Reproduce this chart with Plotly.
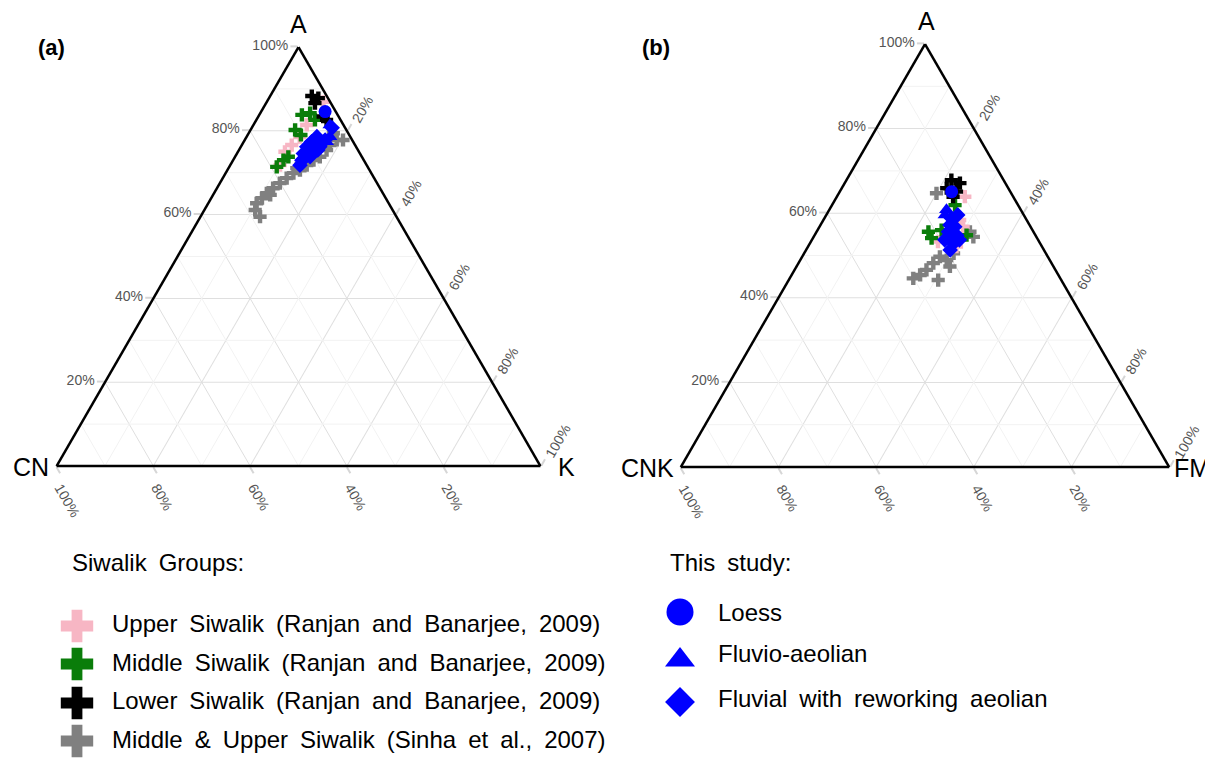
import plotly.graph_objects as go

W, H = 1213, 761
OFF = 8  # page offset of the figure div (body margin); positions below are page pixels
FONT = "Liberation Sans"

# ---------------- Panel (a): A - CN - K (%) ----------------
a_upper_A = [86.9, 81.4, 76.6, 75.0, 71.8, 78.5]
a_upper_CN = [1.4, 7.6, 13.1, 15.3, 17.9, 10.5]
a_upper_K = [11.7, 11.0, 10.3, 9.7, 10.3, 11.0]

a_middle_A = [83.8, 82.6, 84.2, 80.2, 73.8, 71.4, 73.0, 79.0]
a_middle_CN = [7.4, 5.3, 5.5, 10.6, 15.2, 18.8, 16.6, 10.0]
a_middle_K = [8.8, 12.1, 10.3, 9.2, 11.0, 9.8, 10.4, 11.0]

a_lower_A = [88.3, 87.8, 86.6, 82.6, 83.4]
a_lower_CN = [3.1, 2.0, 3.3, 2.9, 3.2]
a_lower_K = [8.6, 10.2, 10.1, 14.5, 13.4]

a_sinha_A = [77.8, 79.4, 75.4, 73.8, 73.0, 71.8, 70.6, 69.9, 68.7, 67.5, 66.3, 65.1, 63.9, 62.7, 61.1, 59.5, 64.7, 76.6, 71.1, 77.8]
a_sinha_CN = [3.2, 3.1, 6.5, 8.7, 10.4, 12.4, 14.4, 16.1, 18.1, 20.1, 22.1, 24.0, 25.6, 27.3, 28.4, 28.2, 23.5, 5.2, 14.8, 1.9]
a_sinha_K = [19.0, 17.5, 18.1, 17.5, 16.6, 15.8, 15.0, 14.0, 13.2, 12.4, 11.6, 10.9, 10.5, 10.0, 10.5, 12.3, 11.8, 18.2, 14.1, 20.3]

a_loess_A = [84.6]
a_loess_CN = [2.2]
a_loess_K = [13.2]

a_fluvioaeolian_A = [81.4, 78.6, 77.4]
a_fluvioaeolian_CN = [2.8, 4.2, 5.5]
a_fluvioaeolian_K = [15.8, 17.2, 17.1]

a_fluvial_A = [78.6, 77.4, 76.2, 74.6, 73.0, 75.4, 76.2, 73.8, 73.5, 75.4, 77.8, 80.7, 75.4, 71.8]
a_fluvial_CN = [6.9, 8.6, 10.2, 11.7, 12.8, 9.2, 7.5, 10.7, 12.0, 8.3, 5.6, 2.7, 9.9, 13.8]
a_fluvial_K = [14.5, 14.0, 13.6, 13.7, 14.2, 15.4, 16.3, 15.5, 14.5, 16.3, 16.6, 16.6, 14.7, 14.4]

# ---------------- Panel (b): A - CNK - FM (%) ----------------
b_upper_A = [63.9, 58.4, 52.1, 53.3, 56.8]
b_upper_CNK = [9.9, 13.7, 17.5, 20.7, 13.8]
b_upper_FM = [26.2, 27.9, 30.4, 26.0, 29.4]

b_middle_A = [61.9, 55.6, 56.0, 54.8, 54.1]
b_middle_CNK = [12.9, 21.5, 18.6, 14.1, 21.6]
b_middle_FM = [25.2, 22.9, 25.4, 31.1, 24.3]

b_lower_A = [67.8, 67.1, 65.9, 65.1, 63.9]
b_lower_CNK = [10.7, 9.3, 12.6, 11.0, 12.3]
b_lower_FM = [21.5, 23.6, 21.5, 23.9, 23.8]

b_sinha_A = [64.7, 54.4, 55.6, 50.5, 48.9, 49.7, 48.2, 46.6, 45.4, 44.6, 44.2, 47.4]
b_sinha_CNK = [15.3, 12.9, 13.0, 18.9, 21.1, 22.1, 24.2, 26.4, 28.3, 30.1, 25.2, 21.2]
b_sinha_FM = [20.0, 32.7, 31.4, 30.6, 30.0, 28.2, 27.6, 27.0, 26.3, 25.3, 30.6, 31.4]

b_loess_A = [65.1]
b_loess_CNK = [12.0]
b_loess_FM = [22.9]

b_fluvioaeolian_A = [60.8, 59.6]
b_fluvioaeolian_CNK = [15.2, 16.1]
b_fluvioaeolian_FM = [24.0, 24.3]

b_fluvial_A = [58.8, 56.8, 54.8, 52.9, 51.3, 55.6, 53.7, 59.6, 53.7, 53.7, 57.2]
b_fluvial_CNK = [15.2, 15.5, 16.1, 17.7, 19.2, 17.4, 17.7, 13.5, 19.1, 16.1, 16.3]
b_fluvial_FM = [26.0, 27.7, 29.1, 29.4, 29.5, 27.0, 28.6, 26.9, 27.2, 30.2, 26.5]

# ---------------- Legend content / tick labels ----------------
siwalik_labels = [
    "Upper Siwalik (Ranjan and Banarjee, 2009)",
    "Middle Siwalik (Ranjan and Banarjee, 2009)",
    "Lower Siwalik (Ranjan and Banarjee, 2009)",
    "Middle & Upper Siwalik (Sinha et al., 2007)",
]
siwalik_colors = ["#f7b6c4", "#0a7d0a", "#000000", "#808080"]
study_labels = ["Loess", "Fluvio-aeolian", "Fluvial with reworking aeolian"]
study_symbols = ["circle", "triangle-up", "diamond"]
BLUE = "#0000ff"

tick_vals = [20, 40, 60, 80, 100]
tick_text = ["20%", "40%", "60%", "80%", "100%"]

fig = go.Figure()


def minor_grid(sub):
    a, b, c = [], [], []
    for v in (10, 30, 50, 70, 90):
        a += [v, v, None]; b += [100 - v, 0, None]; c += [0, 100 - v, None]
        a += [100 - v, 0, None]; b += [v, v, None]; c += [0, 100 - v, None]
        a += [100 - v, 0, None]; b += [0, 100 - v, None]; c += [v, v, None]
    fig.add_trace(go.Scatterternary(a=a, b=b, c=c, mode="lines",
                                    line=dict(color="#f2f2f2", width=1),
                                    subplot=sub, hoverinfo="skip", showlegend=False))


def add_pts(sub, A, B, C, color, symbol, size):
    fig.add_trace(go.Scatterternary(a=A, b=B, c=C, mode="markers",
                                    marker=dict(color=color, symbol=symbol, size=size,
                                                line=dict(width=0)),
                                    subplot=sub, showlegend=False))


CROSS = 11
for sub, groups, blues in [
    ("ternary", [(a_sinha_A, a_sinha_CN, a_sinha_K, siwalik_colors[3]),
                 (a_upper_A, a_upper_CN, a_upper_K, siwalik_colors[0]),
                 (a_middle_A, a_middle_CN, a_middle_K, siwalik_colors[1]),
                 (a_lower_A, a_lower_CN, a_lower_K, siwalik_colors[2])],
     [(a_fluvial_A, a_fluvial_CN, a_fluvial_K, "diamond", 12),
      (a_fluvioaeolian_A, a_fluvioaeolian_CN, a_fluvioaeolian_K, "triangle-up", 13),
      (a_loess_A, a_loess_CN, a_loess_K, "circle", 13)]),
    ("ternary2", [(b_sinha_A, b_sinha_CNK, b_sinha_FM, siwalik_colors[3]),
                  (b_upper_A, b_upper_CNK, b_upper_FM, siwalik_colors[0]),
                  (b_middle_A, b_middle_CNK, b_middle_FM, siwalik_colors[1]),
                  (b_lower_A, b_lower_CNK, b_lower_FM, siwalik_colors[2])],
     [(b_fluvial_A, b_fluvial_CNK, b_fluvial_FM, "diamond", 12),
      (b_fluvioaeolian_A, b_fluvioaeolian_CNK, b_fluvioaeolian_FM, "triangle-up", 13),
      (b_loess_A, b_loess_CNK, b_loess_FM, "circle", 13)]),
]:
    minor_grid(sub)
    for A, B, C, col in groups:
        add_pts(sub, A, B, C, col, "cross", CROSS)
    for A, B, C, sym, sz in blues:
        add_pts(sub, A, B, C, BLUE, sym, sz)


def axis(angle):
    return dict(tickmode="array", tickvals=tick_vals, ticktext=tick_text, ticks="outside",
                ticklen=7, tickcolor="#d6d6d6", tickwidth=1.5, tickangle=angle, showline=True,
                linecolor="black", linewidth=2.5, showgrid=True, gridcolor="#dfdfdf",
                gridwidth=1, tickfont=dict(family=FONT, size=14, color="#555555"),
                title=dict(text=""))


def ternary(left, right, top, bottom):
    return dict(sum=100, bgcolor="white",
                domain=dict(x=[(left - OFF) / W, (right - OFF) / W],
                            y=[1 - (bottom - OFF) / H, 1 - (top - OFF) / H]),
                aaxis=axis(0), baxis=axis(60), caxis=axis(-60))


# legend keys drawn on an invisible cartesian frame expressed in page pixels
LEG_L_X, LEG_R_X = 77, 680
LEG_TXT_L, LEG_TXT_R = 110, 716
siwalik_y = [626, 664, 703, 741]
siwalik_txt_y = [623, 662, 700, 739]
study_y = [612, 660, 702]
study_txt_y = [612, 653, 698]
study_sizes = [27, 26, 23]

for yv, col in zip(siwalik_y, siwalik_colors):
    fig.add_trace(go.Scatter(x=[LEG_L_X], y=[yv], mode="markers", xaxis="x", yaxis="y",
                             marker=dict(symbol="cross", size=27, color=col, line=dict(width=0)),
                             showlegend=False, hoverinfo="skip"))
for yv, sym, sz in zip(study_y, study_symbols, study_sizes):
    fig.add_trace(go.Scatter(x=[LEG_R_X], y=[yv], mode="markers", xaxis="x", yaxis="y",
                             marker=dict(symbol=sym, size=sz, color=BLUE, line=dict(width=0)),
                             showlegend=False, hoverinfo="skip"))

ann = []
WIDE = "\u2002"  # en space: the legend texts use wide word spacing


def text(x, y, s, size=20, anchor="left", bold=False, color="black", wide=False):
    if wide:
        s = s.replace(" ", WIDE)
    ann.append(dict(x=(x - OFF) / W, y=1 - (y - OFF) / H, xref="paper", yref="paper",
                    text=f"<b>{s}</b>" if bold else s,
                    showarrow=False, xanchor=anchor, yanchor="middle",
                    font=dict(family=FONT, size=size, color=color)))


text(36, 47, "(a)", 22, bold=True)
text(640, 47, "(b)", 22, bold=True)
text(298, 24, "A", 25, "center")
text(51, 467, "CN", 25, "right")
text(556, 467, "K", 25, "left")
text(926, 21, "A", 25, "center")
text(676, 468, "CNK", 25, "right")
text(1172, 468, "FM", 25, "left")

text(70, 562, "Siwalik Groups:", 24, wide=True)
for yv, lab in zip(siwalik_txt_y, siwalik_labels):
    text(LEG_TXT_L, yv, lab, 24, wide=True)
text(668, 562, "This study:", 24, wide=True)
for yv, lab in zip(study_txt_y, study_labels):
    text(LEG_TXT_R, yv, lab, 24, wide=True)

fig.update_layout(
    width=W, height=H, margin=dict(l=0, r=0, t=0, b=0),
    paper_bgcolor="white", plot_bgcolor="rgba(0,0,0,0)",
    ternary=ternary(56, 541, 47, 466),
    ternary2=ternary(680, 1170, 44, 467),
    xaxis=dict(domain=[0, 1], range=[OFF, W + OFF], visible=False, fixedrange=True),
    yaxis=dict(domain=[0, 1], range=[H + OFF, OFF], visible=False, fixedrange=True),
    annotations=ann, showlegend=False,
)

fig.write_html("out.html")
